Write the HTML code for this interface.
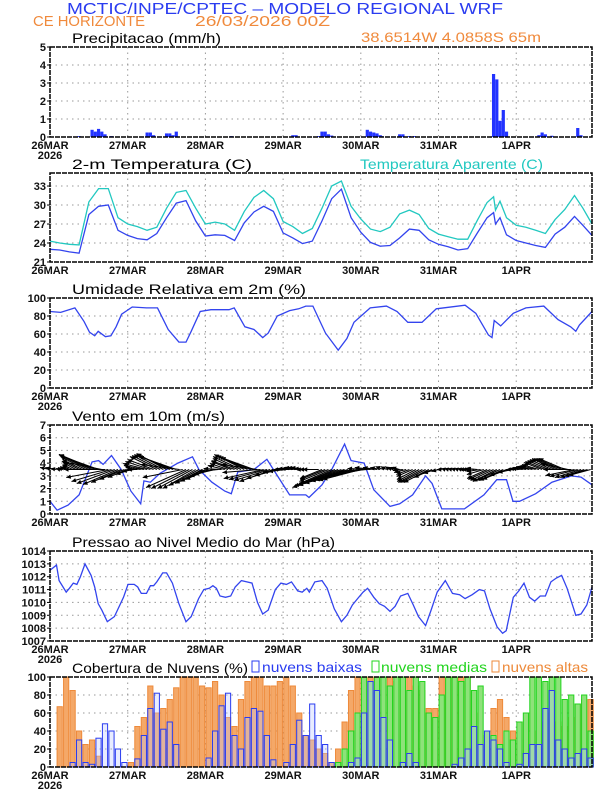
<!DOCTYPE html>
<html><head><meta charset="utf-8">
<style>
body{margin:0;background:#fff;width:612px;height:792px;overflow:hidden;font-family:"Liberation Sans",sans-serif}
svg{display:block}
</style></head>
<body>
<svg id="chart" width="612" height="792" viewBox="0 0 612 792" xmlns="http://www.w3.org/2000/svg" font-family="Liberation Sans, sans-serif">
<text x="67" y="14" textLength="436" lengthAdjust="spacingAndGlyphs" font-size="16" fill="#2a3cf0">MCTIC/INPE/CPTEC – MODELO REGIONAL WRF</text>
<text x="33" y="26" textLength="112" lengthAdjust="spacingAndGlyphs" font-size="15" fill="#f08a3c">CE HORIZONTE</text>
<text x="195" y="26" textLength="135" lengthAdjust="spacingAndGlyphs" font-size="15" fill="#f08a3c">26/03/2026 00Z</text>
<text x="361" y="42" textLength="180" lengthAdjust="spacingAndGlyphs" font-size="14" fill="#f08a3c">38.6514W 4.0858S 65m</text>
<text x="360" y="169" textLength="183" lengthAdjust="spacingAndGlyphs" font-size="14" fill="#20c8c0">Temperatura Aparente (C)</text>
<g id="g"></g>
</svg>
<script>
// ---------- data ----------
const dayLabels=["26MAR","27MAR","28MAR","29MAR","30MAR","31MAR","1APR"];
const precipHours=[9,13,14,15,16,17,19,30,31,32,36,37,38,39,56,75,76,83,84,85,86,87,98,99,100,101,102,102.5,108,109,111,112.5,137,138,139,140,141,151,152,153,155,163,164];
const precipVals=[0.05,0.4,0.3,0.45,0.3,0.15,0.05,0.25,0.25,0.1,0.2,0.2,0.1,0.3,0.05,0.1,0.1,0.05,0.3,0.3,0.15,0.08,0.4,0.3,0.25,0.2,0.1,0.05,0.15,0.15,0.05,0.05,3.5,3.2,0.9,1.5,0.3,0.1,0.25,0.15,0.07,0.5,0.1];
const tempHours=[0,3,6,9,12,15,18,21,24,27,30,33,36,39,42,45,48,51,54,57,60,63,66,69,72,75,78,81,84,87,90,93,96,99,102,105,108,111,114,117,120,123,126,129,132,135,137,137.6,139,141,144,147,150,153,156,159,162,164.6,167.4];
const tempVals=[23,22.9,22.6,22.4,28.5,29.8,30,26,25.2,24.7,24.5,25.5,28,30.3,30.7,27.5,25.1,25.3,25.2,24.4,27.2,28.9,29.8,29,25.6,24.8,23.9,24.3,27.5,31,32.5,28,25.7,24.1,23.5,23.6,24.8,26.2,26,24.5,23.8,23.4,22.9,23.1,25.6,28,28.8,27,28,25.3,24.4,24,23.6,23.3,25.4,26.5,28.2,26.8,25.2];
const appVals=[24.3,24,23.8,23.7,30.5,32.6,32.6,28,27,26.6,26,26.5,29.5,32,32.3,29.5,27,27.3,27,26,29,31.2,32.3,31,27.4,26.6,25.5,26.3,29.5,33,33.8,29.8,27.8,26.2,25.8,26.5,28.6,29.2,28.5,26.3,25.4,25,24.6,24.6,27.6,30.4,31.3,29.2,30.6,28,26.8,26.5,26,25.5,27.7,29.3,31.5,29.5,27];
const rhHours=[0,3.3,7.7,10.5,12.2,13.8,14.9,17.1,18.8,20.4,22.1,25.4,29.8,33.2,36.5,39.8,42,43.6,46.4,49.7,55.3,56.9,60.2,63,65.7,67.4,70.2,74,76.8,79,81.2,83.4,85.1,89,91.7,93.9,98.9,103.9,107.2,110.5,114.9,119.3,128.2,131.5,135.4,136.5,137.2,139.2,143.1,147,152.5,156.9,160.8,162.4,163.5,167.4];
const rhVals=[85,84,89,74,62,58,63,57,58,68,82,90,89,89,65,51,51,63,85,87,87,89,68,65,56,61,80,86,88,91,91,74,61,42,55,73,89,91,85,73,73,88,92,83,59,56,75,69,83,89,91,76,68,63,70,85];
const windHours=[0,2.2,5.6,9,11,13,15,16.4,19,22,25,28,29,31,34,39.5,44,46,50,54,56,58,63,67,69,74,79,80,84,87,91,93,97,100,105,108,112,116,118,121,128,134,138,141,143,145,150,155,161,164,167.4];
const windVals=[1,0.3,0.7,1.5,2.8,4.1,4.2,3.9,4.6,3.5,1.8,0.8,2.6,2.5,3.2,4,4.5,3.5,2.5,1.8,1.6,3.3,3.5,4.3,3.5,1.5,1.5,1.3,2.3,3.5,5.5,4.2,4,1.9,0.6,0.8,1.5,3,2.4,0.4,0.4,1.5,2.7,2.7,1,1,1.6,2.5,3.0,2.9,2.3];
// hourly wind vector components (hour = index)
const vecU=[-1,-0.8,-0.6,-0.4,-0.5,-0.6,-0.7,-1,-1.3,-1.5,-2,-2.5,-3,-3.3,-3.6,-3.9,-4,-4.1,-4.2,-4,-3.8,-3.5,-3,-2.5,
-2,-1.5,-1.2,-1,-1.5,-2,-2.4,-2.5,-2.6,-2.7,-2.8,-2.9,-3,-3.3,-3.5,-3.7,-3.9,-4,-4,-3.8,-3.5,-3.3,-3,-2.7,
-2.5,-2.3,-2.2,-2.1,-2,-1.8,-1.7,-1.8,-2,-2.3,-2.5,-2.8,-3,-3.1,-3.2,-3.3,-3.6,-3.8,-4,-3.8,-3.6,-3.4,-3,-2.5,
-2,-1.8,-1.6,-1.5,-1.5,-1.5,-1.5,-1.5,-1.5,-1.6,-1.6,-1.6,-2.2,-2.5,-2.9,-3.2,-3.8,-4.4,-4.9,-4.6,-4.3,-4,-3.9,-3.9,
-3.8,-3.3,-2.8,-2.3,-1.9,-1.4,-1,-0.8,-0.6,-0.5,-0.6,-0.7,-0.8,-1,-1.2,-1.3,-1.6,-1.9,-2.2,-2.4,-2.5,-2.5,-1.8,-1.2,
-0.7,-0.5,-0.4,-0.4,-0.4,-0.4,-0.4,-0.4,-0.5,-0.6,-0.7,-0.9,-1.1,-1.4,-1.7,-2,-2.2,-2.3,-2.4,-2.4,-2.4,-2.4,-2,-1.5,
-1,-1,-1.1,-1.2,-1.3,-1.4,-1.5,-1.7,-1.8,-2,-2.1,-2.2,-2.3,-2.4,-2.5,-2.6,-2.7,-2.8,-2.9,-2.8,-2.6,-2.4,-2.3,-2.2];
const vecV=[0.2,0.2,0.1,0.1,0.2,0.3,0.4,0.5,0.7,0.8,1,1.3,1.5,1.5,1.5,1.4,0.8,0,-0.8,-1.2,-1.4,-1.5,-1.3,-1,
-0.8,-0.5,-0.2,0,0.2,0.4,0.6,0.8,1,1.3,1.4,1.5,1.6,1.5,1.4,1.3,0.5,-0.8,-1.8,-1.9,-1.9,-1.9,-1.6,-1.4,
-1.2,-1,-0.7,-0.5,-0.2,0.1,0.4,0.6,0.8,0.9,1.1,1.3,1.5,1.4,1.3,1.2,0.5,-0.3,-0.9,-1,-1.1,-1.2,-0.9,-0.6,
-0.3,-0.2,0,0.1,0.1,0.2,0.2,0.2,0.1,0,0,0,-0.9,-1,-1.2,-1.4,-1.6,-1.7,-1.8,-1.6,-1.4,-1.2,-1.1,-1.1,
-1,-0.6,-0.2,0.1,0.2,0.2,0.2,0.3,0.3,0.3,0.2,0.2,0.2,-0.1,-0.3,-0.5,-0.7,-1,-1.2,-1.3,-1.3,-1.3,-0.8,-0.4,
-0.2,0,0.1,0.1,0.1,0.1,0.1,0.1,0,0,0,0.1,0.1,-0.2,-0.5,-0.9,-1,-1.1,-1.2,-1.1,-1.1,-1,-0.6,-0.3,
0,0.1,0.1,0.2,0.3,0.3,0.4,0.5,0.7,0.8,0.9,1,1.1,1.1,1.1,1.1,0.6,0,-0.6,-0.7,-0.8,-0.8,-0.7,-0.6];
const presHours=[0,2,2.8,5,6,7.2,8.3,9.4,10.8,12.7,13.8,14.9,16,17.7,19.9,22.7,24.1,26,27.1,28.2,29.8,31,32,33,34.8,36,37.8,39.8,42,43.6,45.9,47.5,49.2,50.3,51.4,52.5,54.2,55.8,57.2,59.1,60.8,62.4,64.1,65.7,67.4,69.6,71.3,73,74.6,76.5,77.9,79.3,80.1,81.8,84,85.6,87.8,90,91.7,93.4,95,96.7,98.1,100,101.7,103.3,105,106.6,108.3,110.5,112.2,113.8,116,117.7,119.6,122.1,124.3,126.5,128.2,130.4,132.6,134.2,135.9,138.1,139.8,140.9,143.1,144.8,146.4,148.1,149.7,151.4,153,154.7,156.4,158,159.7,162.4,164,165.8,167.4];
const presVals=[1012.5,1012.9,1011.7,1010.8,1011.1,1011.5,1011.4,1012,1013,1012.1,1011.2,1009.9,1009.4,1008.5,1008.9,1010.4,1011.4,1011.4,1011.2,1010.7,1010.7,1011.3,1011.3,1011.6,1012.3,1012.3,1011.5,1009.9,1008.5,1008.9,1010.3,1011,1011.1,1011.3,1011.1,1010.5,1010.4,1010.5,1011.2,1011.7,1011.6,1011.5,1010,1009.1,1009.4,1011,1011.5,1011.4,1011.6,1010.9,1010.8,1011.1,1010.8,1011.6,1011.7,1011.1,1009.5,1008.5,1009,1009.8,1010.3,1010.8,1011.1,1010.4,1009.9,1009.7,1009.3,1009.7,1010.5,1010.7,1009.8,1008.9,1008.2,1009.4,1010.8,1011.7,1010.7,1010.6,1010.3,1010.6,1011,1010.9,1009.5,1008.1,1007.6,1007.8,1010.4,1010.9,1011.5,1010.4,1010.1,1010.5,1010.5,1011.6,1011.9,1012.1,1011.1,1009,1009.1,1009.8,1011.2];
// clouds, 2-hourly (hour = 2*i)
const cloudHigh=[0,67,100,85,40,25,30,12,0,0,0,0,5,45,55,90,60,65,75,88,100,100,100,90,88,95,80,55,45,75,95,100,100,90,90,95,100,90,60,35,30,20,15,5,20,50,85,100,100,100,100,100,100,95,100,100,90,85,65,65,100,100,100,100,100,60,35,20,65,75,55,40,30,50,60,40,50,60,50,45,55,70,75,75];
const cloudMed=[0,0,0,0,0,0,0,0,0,0,0,0,0,0,0,0,0,0,0,0,0,0,0,0,0,0,0,0,0,0,0,0,0,0,0,0,0,0,0,0,0,0,0,0,5,20,40,60,100,95,100,100,90,100,100,85,100,95,60,55,80,100,100,95,100,85,90,40,35,25,40,30,50,60,100,100,95,100,100,75,80,70,80,40];
const cloudLow=[0,0,0,5,30,5,3,32,48,40,20,5,0,9,35,65,82,42,50,25,0,0,0,0,10,40,68,82,35,20,55,65,62,35,8,0,5,25,52,35,70,35,25,5,0,0,5,10,60,95,85,55,30,0,5,15,5,0,0,0,0,0,3,10,20,45,25,40,30,20,5,0,3,15,25,25,65,85,30,20,10,15,20,10];

// ---------- layout ----------
const NS="http://www.w3.org/2000/svg";
const G=document.getElementById('g');
const X0=50,X1=592,HMAX=167.4;
function xS(h){return X0+(X1-X0)*h/HMAX;}
function el(tag,attrs,parent){const e=document.createElementNS(NS,tag);for(const k in attrs)e.setAttribute(k,attrs[k]);(parent||G).appendChild(e);return e;}
function mkY(top,bot,vmin,vmax){return v=>bot-(v-vmin)/(vmax-vmin)*(bot-top);}

function panel(name,top,bot,vmin,vmax,ticks,title,titleLen,year){
  const y=mkY(top,bot,vmin,vmax);
  const g=el('g',{});
  
  
  ticks.forEach(t=>{
    const yy=y(t);
    if(yy>top+1&&yy<bot-1){const gl=el('line',{x1:X0,x2:X1,y1:yy,y2:yy,stroke:'#999','stroke-dasharray':'1.5,4','stroke-width':1},g);
      
      }
    const tl=el('text',{x:X0-4,y:yy+4,'text-anchor':'end','font-size':11,'font-weight':'bold',fill:'#111'},g);
    tl.textContent=String(t);
    
    
    const tk=el('line',{x1:X0-3,x2:X0,y1:yy,y2:yy,stroke:'#000'},g);
    
    
  });
  dayLabels.forEach((d,i)=>{
    const xx=xS(i*24);
    if(i>0){const gl=el('line',{x1:xx,x2:xx,y1:top,y2:bot,stroke:'#999','stroke-dasharray':'1.5,4'},g);
      
      }
    const tl=el('text',{x:xx,y:bot+12,'text-anchor':'middle','font-size':11,'font-weight':'bold',fill:'#111'},g);
    tl.textContent=d;
    
    
  });
  if(year){const yl=el('text',{x:X0,y:bot+22,'text-anchor':'middle','font-size':11,'font-weight':'bold',fill:'#111'},g);
    yl.textContent='2026';
    
    }
  const tt=el('text',{x:72,y:top-4,'font-size':14,fill:'#000',textLength:titleLen,lengthAdjust:'spacingAndGlyphs'},g);
  tt.textContent=title;
  
  
  return {y,g,top,bot};
}
function frame(p,name){
  const r=el('rect',{x:X0,y:p.top,width:X1-X0,height:p.bot-p.top,fill:'none',stroke:'#000','stroke-width':1.5,'stroke-dasharray':'5,1'});
  
  
}
function line(hours,vals,yf,color,name){
  const pts=hours.map((h,i)=>xS(h).toFixed(1)+','+yf(vals[i]).toFixed(1)).join(' ');
  const l=el('polyline',{points:pts,fill:'none',stroke:color,'stroke-width':1.3});
  
  
}

// Panel 1 precip
const p1=panel('precipitation',47,137,0,5,[0,1,2,3,4,5],'Precipitacao (mm/h)',149,true);
precipHours.forEach((h,i)=>{
  const b=el('rect',{x:xS(h)-1.6,y:p1.y(precipVals[i]),width:3.2,height:p1.bot-p1.y(precipVals[i]),fill:'#2233ff'});
  
  
});
frame(p1,'precipitation');

// Panel 2 temperature
const p2=panel('temperature',173,262,21,35.06,[21,24,27,30,33],'2-m Temperatura (C)',180,false);
line(tempHours,appVals,p2.y,'#22c8c0','apparent-temperature-line');
line(tempHours,tempVals,p2.y,'#3344ee','temperature-line');
frame(p2,'temperature');

// Panel 3 RH
const p3=panel('humidity',298,388,0,100,[0,20,40,60,80,100],'Umidade Relativa em 2m (%)',234,true);
line(rhHours,rhVals,p3.y,'#3344ee','humidity-line');
frame(p3,'humidity');

// Panel 4 wind
const p4=panel('wind',425,514,0,7,[0,1,2,3,4,5,6,7],'Vento em 10m (m/s)',153,false);
line(windHours,windVals,p4.y,'#3344ee','wind-speed-line');
const VS=10, baseY=p4.y(3.5);
vecU.forEach((u,h)=>{
  const x0=xS(h),x1=x0+u*VS,y1=baseY-vecV[h]*VS;
  const a=el('line',{x1:x0,y1:baseY,x2:x1,y2:y1,stroke:'#000','stroke-width':1});
  
  
  const ang=Math.atan2(y1-baseY,x1-x0),L=5;
  const hp=[[x1,y1],[x1-L*Math.cos(ang-0.45),y1-L*Math.sin(ang-0.45)],[x1-L*Math.cos(ang+0.45),y1-L*Math.sin(ang+0.45)]];
  const hd=el('polygon',{points:hp.map(p=>p[0].toFixed(1)+','+p[1].toFixed(1)).join(' '),fill:'#000'});
  
  
});
frame(p4,'wind');

// Panel 5 pressure
const p5=panel('pressure',551,641,1007,1014,[1007,1008,1009,1010,1011,1012,1013,1014],'Pressao ao Nivel Medio do Mar (hPa)',263,true);
line(presHours,presVals,p5.y,'#3344ee','pressure-line');
frame(p5,'pressure');

// Panel 6 clouds
const p6=panel('cloud',677,767,0,100,[0,20,40,60,80,100],'Cobertura de Nuvens (%)',176,true);
const BW=5.2;
function bars(vals,fill,stroke,name){
  vals.forEach((v,i)=>{
    if(v<=0)return;
    const xx=xS(i*2)+0.6;
    const b=el('rect',{x:xx,y:p6.y(v),width:BW,height:p6.bot-p6.y(v),fill:fill,stroke:stroke,'stroke-width':1});
    
    
  });
}
bars(cloudHigh,'#f4a868','#ee8a3a','cloud-high-bar');
bars(cloudMed,'#8ee27a','#22d41e','cloud-medium-bar');
bars(cloudLow,'rgba(190,200,255,0.35)','#2a3cf0','cloud-low-bar');
frame(p6,'cloud');
</script>
<svg style="position:absolute;left:0;top:0" width="612" height="792">
<rect x="252" y="661" width="7" height="11" fill="none" stroke="#2a3cf0"/>
<text x="262" y="672" textLength="100" lengthAdjust="spacingAndGlyphs" font-size="14" fill="#2a3cf0" font-family="Liberation Sans, sans-serif">nuvens baixas</text>
<rect x="372" y="661" width="7" height="11" fill="none" stroke="#22d41e"/>
<text x="381" y="672" textLength="106" lengthAdjust="spacingAndGlyphs" font-size="14" fill="#22d41e" font-family="Liberation Sans, sans-serif">nuvens medias</text>
<rect x="492" y="661" width="7" height="11" fill="none" stroke="#ee8a3a"/>
<text x="502" y="672" textLength="86" lengthAdjust="spacingAndGlyphs" font-size="14" fill="#ee8a3a" font-family="Liberation Sans, sans-serif">nuvens altas</text>
</svg>
</body></html>
